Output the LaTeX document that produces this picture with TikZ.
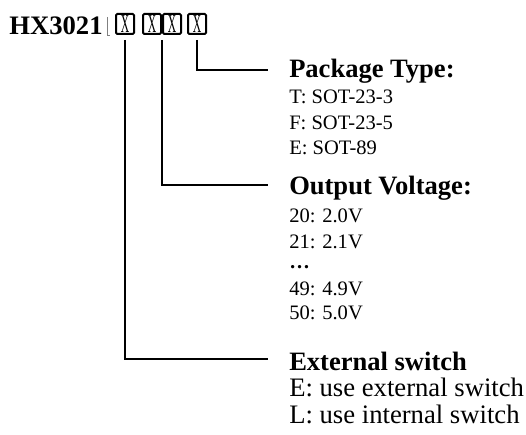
\documentclass[tikz,border=0pt]{standalone}
\usepackage{fontspec}
\setmainfont{Liberation Serif}
\usepackage{tikz}
\usepackage{graphicx}

\newcommand{\slimx}{\scalebox{0.45}[1]{X}}

\begin{document}
\begin{tikzpicture}[x=0.75pt,y=-0.75pt,
    digit/.style={draw,line width=1.5pt,rounded corners=1pt,minimum width=13.5pt,minimum height=15pt,inner sep=0pt,font=\fontsize{19.3}{19.3}\selectfont},
    head/.style={anchor=base west,inner sep=0pt,font=\fontsize{19.9}{24}\selectfont\bfseries},
    item/.style={anchor=base west,inner sep=0pt,font=\fontsize{15.4}{18}\selectfont},
    bigitem/.style={anchor=base west,inner sep=0pt,font=\fontsize{20}{24}\selectfont},
    lead/.style={line width=1pt,shorten <=3.75pt}]
  \useasboundingbox (0,0) rectangle (526,435);
  % part number
  \node[anchor=base west,inner sep=0pt,font=\fontsize{20}{24}\selectfont\bfseries] (part) at (9,35) {HX3021};
  \draw[gray,line width=0.4pt] (107,17) -- (107,35) -- (110,35);
  \node[digit] (b1) at (125,24) {\slimx};
  \node[digit] (b2) at (152,24) {\slimx};
  \node[digit] (b3) at (172,24) {\slimx};
  \node[digit] (b4) at (197,24) {\slimx};
  % package
  \node[head] (pkg) at (289,78) {Package Type:};
  \node[item] (pkgT) at (289,104) {T: SOT-23-3};
  \node[item] (pkgF) at (289,130) {F: SOT-23-5};
  \node[item] (pkgE) at (289,155) {E: SOT-89};
  % voltage
  \node[head] (vout) at (289,195) {Output Voltage:};
  \node[item] (v20) at (289,223) {20: 2.0V};
  \node[item] (v21) at (289,248) {21: 2.1V};
  \node[item] (vdots) at (289,269) {\textbf{…}};
  \node[item] (v49) at (289,296) {49: 4.9V};
  \node[item] (v50) at (289,320) {50: 5.0V};
  % switch
  \node[head] (sw) at (289,370) {External switch};
  \node[bigitem] (swE) at (289,397) {E: use external switch};
  \node[bigitem] (swL) at (289,423) {L: use internal switch};
  % leads
  \coordinate (pkgend) at (268,70);
  \coordinate (voutend) at (268,185);
  \coordinate (swend) at (268,359);
  \draw[lead] (b4.south) |- (pkgend);
  \draw[lead] (b2.south east) |- (voutend);
  \draw[lead] (b1.south) |- (swend);
\end{tikzpicture}
\end{document}
